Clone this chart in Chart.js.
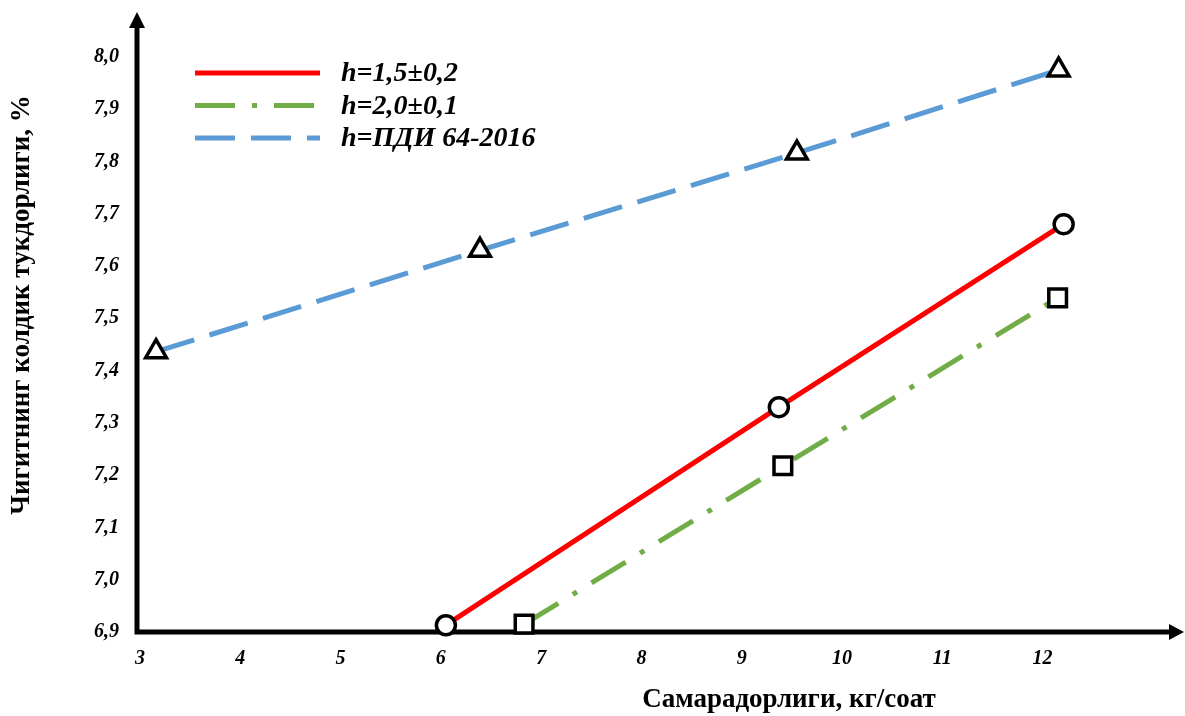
<!DOCTYPE html>
<html>
<head>
<meta charset="utf-8">
<script src="https://cdn.jsdelivr.net/npm/chart.js@4.4.1/dist/chart.umd.min.js"></script>
<style>
  html, body { margin: 0; padding: 0; background: #fff; }
  canvas { display: block; }
</style>
</head>
<body>
<canvas id="grafica" width="1185" height="716"></canvas>
<script>
// tick values
const xTicks = [3, 4, 5, 6, 7, 8, 9, 10, 11, 12];
const yTicks = [6.9, 7.0, 7.1, 7.2, 7.3, 7.4, 7.5, 7.6, 7.7, 7.8, 7.9, 8.0];

// series
const seriesLabels = ["h=1,5\u00b10,2", "h=2,0\u00b10,1", "h=\u041f\u0414\u0418 64-2016"];
const xRed = [6.05, 9.37, 12.21];
const yRed = [6.913, 7.33, 7.68];
const xGreen = [6.83, 9.41, 12.15];
const yGreen = [6.915, 7.218, 7.539];
const xBlue = [3.16, 6.39, 9.55, 12.16];
const yBlue = [7.436, 7.63, 7.816, 7.975];

const xTitle = "\u0421\u0430\u043c\u0430\u0440\u0430\u0434\u043e\u0440\u043b\u0438\u0433\u0438, \u043a\u0433/\u0441\u043e\u0430\u0442";
const yTitle = "\u0427\u0438\u0433\u0438\u0442\u043d\u0438\u043d\u0433 \u043a\u043e\u043b\u0434\u0438\u043a \u0442\u0443\u043a\u0434\u043e\u0440\u043b\u0438\u0433\u0438, %";

const serif = "'Liberation Serif', 'Times New Roman', serif";

function pts(xs, ys) {
    return xs.map((x, i) => ({ x: x, y: ys[i] }));
}

// axes with arrows, titles and legend
const decor = {
    id: "decor",
    beforeDatasetsDraw(chart) {
        const ctx = chart.ctx;
        const a = chart.chartArea;
        ctx.save();
        ctx.strokeStyle = "#000";
        ctx.fillStyle = "#000";
        ctx.lineWidth = 5;
        ctx.beginPath();
        ctx.moveTo(a.left, a.bottom + 2.5);
        ctx.lineTo(a.left, a.top + 10);
        ctx.moveTo(a.left - 2.5, a.bottom);
        ctx.lineTo(a.right - 12, a.bottom);
        ctx.stroke();
        // arrow heads
        ctx.beginPath();
        ctx.moveTo(a.left, a.top - 3);
        ctx.lineTo(a.left - 8, a.top + 13);
        ctx.lineTo(a.left + 8, a.top + 13);
        ctx.closePath();
        ctx.fill();
        ctx.beginPath();
        ctx.moveTo(a.right - 1, a.bottom);
        ctx.lineTo(a.right - 16, a.bottom - 8);
        ctx.lineTo(a.right - 16, a.bottom + 8);
        ctx.closePath();
        ctx.fill();
        ctx.restore();
    },
    afterDraw(chart) {
        const ctx = chart.ctx;
        ctx.save();
        ctx.fillStyle = "#000";
        ctx.font = "bold 27px " + serif;
        ctx.textAlign = "center";
        ctx.textBaseline = "middle";
        ctx.fillText(xTitle, 789, 700);
        ctx.translate(22, 305);
        ctx.rotate(-Math.PI / 2);
        ctx.fillText(yTitle, 0, 0);
        ctx.restore();

        // legend
        ctx.save();
        chart.data.datasets.forEach((ds, i) => {
            const y = 73 + i * 32.5;
            ctx.strokeStyle = ds.borderColor;
            ctx.lineWidth = 5;
            ctx.setLineDash(ds.borderDash || []);
            ctx.beginPath();
            ctx.moveTo(195, y);
            ctx.lineTo(320, y);
            ctx.stroke();
            ctx.setLineDash([]);
            ctx.fillStyle = "#000";
            ctx.font = "italic bold 28px " + serif;
            ctx.textAlign = "left";
            ctx.textBaseline = "middle";
            ctx.fillText(ds.label, 341, y + 1);
        });
        ctx.restore();
    }
};

const ctx = document.getElementById("grafica").getContext("2d");
new Chart(ctx, {
    type: "line",
    data: {
        datasets: [
            {
                label: seriesLabels[0],
                data: pts(xRed, yRed),
                borderColor: "#ff0000",
                borderWidth: 5,
                pointStyle: "circle",
                pointRadius: 9.5,
                pointBorderWidth: 3.5,
                pointBorderColor: "#000",
                pointBackgroundColor: "#fff",
                clip: false
            },
            {
                label: seriesLabels[1],
                data: pts(xGreen, yGreen),
                borderColor: "#70ad47",
                borderWidth: 5,
                borderDash: [40, 17, 5, 17],
                pointStyle: "rect",
                pointRadius: 12.5,
                pointBorderWidth: 3.5,
                pointBorderColor: "#000",
                pointBackgroundColor: "#fff",
                clip: false
            },
            {
                label: seriesLabels[2],
                data: pts(xBlue, yBlue),
                borderColor: "#5b9bd5",
                borderWidth: 5,
                borderDash: [40, 16],
                pointStyle: "triangle",
                pointRadius: 12,
                pointBorderWidth: 3.5,
                pointBorderColor: "#000",
                pointBackgroundColor: "#fff",
                clip: false
            }
        ]
    },
    options: {
        responsive: false,
        animation: false,
        layout: { autoPadding: false, padding: { top: 15, right: 0, left: 0, bottom: 0 } },
        plugins: {
            legend: { display: false },
            tooltip: { enabled: false }
        },
        scales: {
            x: {
                type: "linear",
                min: 2.97,
                max: 13.42,
                grid: { display: false, drawTicks: false },
                border: { display: false },
                afterBuildTicks: s => { s.ticks = xTicks.map(v => ({ value: v })); },
                afterFit: s => { s.height = 84; s.paddingLeft = 0; s.paddingRight = 0; },
                ticks: {
                    color: "#000",
                    padding: 15,
                    maxRotation: 0,
                    font: { family: serif, size: 20, weight: "bold", style: "italic" }
                }
            },
            y: {
                min: 6.9,
                max: 8.08,
                grid: { display: false, drawTicks: false },
                border: { display: false },
                afterBuildTicks: s => { s.ticks = yTicks.map(v => ({ value: v })); },
                afterFit: s => { s.width = 137; s.paddingTop = 0; s.paddingBottom = 0; },
                ticks: {
                    color: "#000",
                    padding: 18,
                    font: { family: serif, size: 20, weight: "bold", style: "italic" },
                    callback: v => v.toFixed(1).replace(".", ",")
                }
            }
        }
    },
    plugins: [decor]
});
</script>
</body>
</html>
